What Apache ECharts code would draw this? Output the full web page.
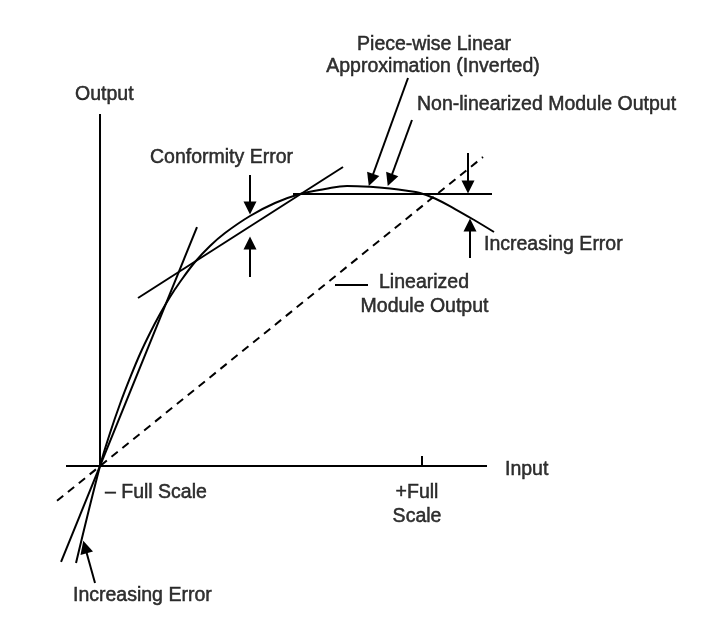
<!DOCTYPE html>
<html>
<head>
<meta charset="utf-8">
<script src="https://cdn.jsdelivr.net/npm/echarts@6/dist/echarts.min.js"></script>
<style>
html, body { margin: 0; padding: 0; background: #fff; }
#chart { width: 704px; height: 641px; }
</style>
</head>
<body>
<div id="chart"></div>
<script>
// units: -Full Scale at input 0, +Full Scale at input 100, output in the same units

// non-linearized module output
var curveX = [-7.45, 0, 3.11, 6.21, 9.32, 12.42, 15.53, 18.63, 21.74, 24.84, 29.50, 34.16, 38.82, 46.58, 54.35, 62.11, 69.88, 76.71, 83.85, 90.06, 95.34, 99.38, 104.04, 110.25, 116.46, 122.36];
var curveY = [-30.12, 0, 10.25, 19.25, 27.33, 34.78, 41.30, 47.20, 52.48, 57.14, 63.35, 68.32, 72.36, 77.64, 81.68, 84.47, 86.02, 86.96, 86.71, 86.18, 85.50, 84.78, 83.07, 79.81, 76.24, 72.67];

// linearized module output (dashed)
var linearX = [-13.35, 118.94];
var linearY = [-10.8, 95.96];

// piece-wise linear approximation, three segments
var piece1X = [-12.1, 30.12];
var piece1Y = [-29.8, 74.22];
var piece2X = [11.80, 75.47];
var piece2Y = [52.17, 92.86];
var piece3X = [59.94, 121.74];
var piece3Y = [84.47, 84.47];

// drawn axes and the +Full Scale tick
var inputAxisX = [-10.56, 120.19];
var outputAxisY = [0, 109.32];
var fullScaleTick = 100;

// annotation arrows: [fromX, fromY, toX, toY]
var arrows = [
    [46.58, 90.37, 46.58, 80.12],
    [46.58, 58.70, 46.58, 69.25],
    [114.29, 97.20, 114.29, 86.65],
    [114.91, 64.60, 114.91, 74.84],
    [95.65, 120.50, 84.16, 88.82],
    [96.89, 107.45, 90.06, 88.82],
    [-1.55, -36.34, -4.66, -25.16]
];

// text labels: [text, x, y, align]
var labels = [
    ['Output', -7.76, 115.22, 'left'],
    ['Conformity Error', 15.53, 95.65, 'left'],
    ['Piece-wise Linear', 103.73, 130.75, 'center'],
    ['Approximation (Inverted)', 103.42, 123.91, 'center'],
    ['Non-linearized Module Output', 98.45, 112.11, 'left'],
    ['Increasing Error', 119.25, 68.63, 'left'],
    ['Linearized', 100.62, 56.83, 'center'],
    ['Module Output', 100.78, 49.38, 'center'],
    ['Input', 125.78, -1.24, 'left'],
    ['\u2013 Full Scale', 1.55, -8.39, 'left'],
    ['+Full', 98.45, -8.39, 'center'],
    ['Scale', 98.45, -15.84, 'center'],
    ['Increasing Error', -8.39, -40.37, 'left']
];

var leaderX = [72.98, 83.23];
var leaderY = 56.21;

var dom = document.getElementById('chart');
var myChart = echarts.init(dom);

var ink = '#000';
var font = '"Liberation Sans", Arial, Helvetica, sans-serif';

function pairs(xs, ys) {
    return xs.map(function (x, i) { return [x, ys[i]]; });
}

function plainLine(data, extra) {
    var s = {
        type: 'line',
        data: data,
        showSymbol: false,
        symbol: 'none',
        silent: true,
        lineStyle: { color: ink, width: 2 }
    };
    return Object.assign(s, extra || {});
}

var option = {
    animation: false,
    grid: { left: 0, right: 0, top: 0, bottom: 0 },
    xAxis: { type: 'value', min: -31.06, max: 187.58, show: false },
    yAxis: { type: 'value', min: -54.35, max: 144.72, show: false },
    series: [
        plainLine(pairs(inputAxisX, [0, 0])),
        plainLine(pairs([0, 0], outputAxisY)),
        plainLine(pairs([fullScaleTick, fullScaleTick], [0, 3.1])),
        plainLine(pairs(linearX, linearY), { lineStyle: { color: ink, width: 2, type: [8, 6] } }),
        plainLine(pairs(piece1X, piece1Y)),
        plainLine(pairs(piece2X, piece2Y)),
        plainLine(pairs(piece3X, piece3Y)),
        plainLine(pairs(curveX, curveY), { smooth: 0.4 }),
        plainLine(pairs(leaderX, [leaderY, leaderY])),
        {
            type: 'lines',
            coordinateSystem: 'cartesian2d',
            silent: true,
            symbol: ['none', 'triangle'],
            symbolSize: [15, 13],
            symbolOffset: [0, 6.5],
            lineStyle: { color: ink, width: 2, opacity: 1 },
            data: arrows.map(function (a) {
                return { coords: [[a[0], a[1]], [a[2], a[3]]] };
            })
        },
        {
            type: 'scatter',
            symbolSize: 0,
            silent: true,
            label: {
                show: true,
                position: 'inside',
                verticalAlign: 'middle',
                color: ink,
                textBorderColor: ink,
                textBorderWidth: 0.5,
                fontSize: 19.5,
                fontFamily: font,
                formatter: '{b}'
            },
            data: labels.map(function (l) {
                return { name: l[0], value: [l[1], l[2]], label: { align: l[3] } };
            })
        }
    ]
};

if (option && typeof option === 'object') {
    myChart.setOption(option);
}
</script>
</body>
</html>
